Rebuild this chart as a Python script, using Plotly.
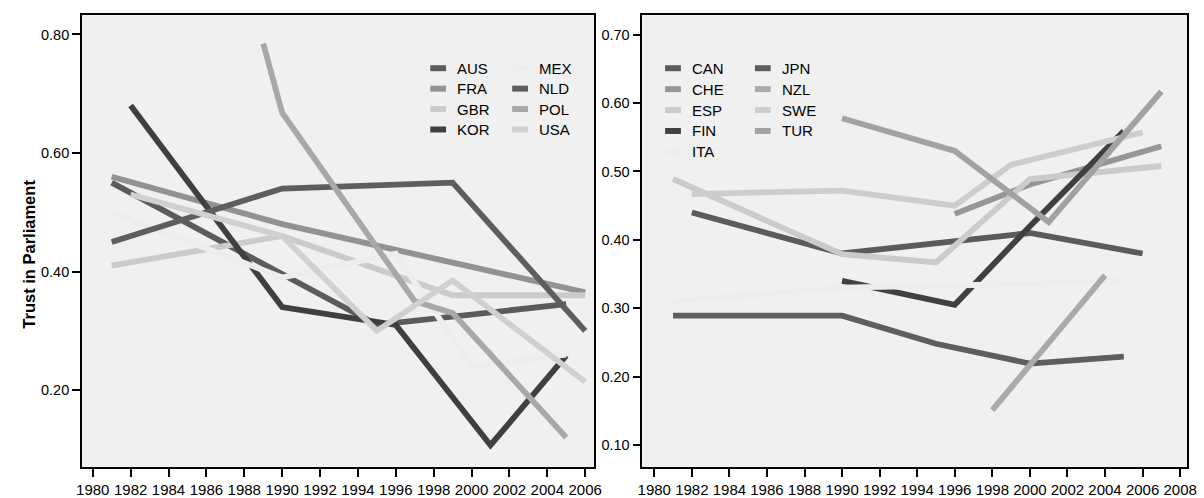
import plotly.graph_objects as go

# ---------------- data ----------------
left_names = ["AUS", "FRA", "GBR", "KOR", "MEX", "NLD", "POL", "USA"]
AUS_years = [1981, 1995, 2005]
AUS_vals = [0.55, 0.31, 0.345]
FRA_years = [1981, 1990, 1999, 2006]
FRA_vals = [0.56, 0.48, 0.415, 0.365]
GBR_years = [1981, 1990, 1999, 2006]
GBR_vals = [0.41, 0.46, 0.36, 0.36]
KOR_years = [1982, 1990, 1996, 2001, 2005]
KOR_vals = [0.68, 0.34, 0.31, 0.107, 0.258]
MEX_years = [1981, 1990, 1996, 2000, 2005]
MEX_vals = [0.50, 0.39, 0.43, 0.24, 0.26]
NLD_years = [1981, 1990, 1999, 2006]
NLD_vals = [0.45, 0.54, 0.55, 0.30]
POL_years = [1989, 1990, 1997, 1999, 2005]
POL_vals = [0.785, 0.668, 0.35, 0.33, 0.12]
USA_years = [1982, 1990, 1995, 1999, 2006]
USA_vals = [0.53, 0.46, 0.30, 0.385, 0.214]

right_names = ["CAN", "CHE", "ESP", "FIN", "ITA", "JPN", "NZL", "SWE", "TUR"]
CAN_years = [1982, 1990, 2000, 2006]
CAN_vals = [0.44, 0.38, 0.41, 0.38]
CHE_years = [1996, 2000, 2007]
CHE_vals = [0.438, 0.481, 0.537]
ESP_years = [1981, 1990, 1995, 2000, 2007]
ESP_vals = [0.489, 0.379, 0.367, 0.489, 0.508]
FIN_years = [1990, 1996, 2000, 2005]
FIN_vals = [0.34, 0.305, 0.42, 0.559]
ITA_years = [1981, 1990, 1999, 2005]
ITA_vals = [0.31, 0.33, 0.335, 0.34]
JPN_years = [1981, 1990, 1995, 2000, 2005]
JPN_vals = [0.289, 0.289, 0.248, 0.219, 0.229]
NZL_years = [1998, 2004]
NZL_vals = [0.151, 0.348]
SWE_years = [1982, 1990, 1996, 1999, 2006]
SWE_vals = [0.467, 0.472, 0.45, 0.51, 0.557]
TUR_years = [1990, 1996, 2001, 2007]
TUR_vals = [0.578, 0.53, 0.426, 0.617]

left_ticks_x = list(range(1980, 2007, 2))
right_ticks_x = list(range(1980, 2009, 2))
left_ticks_y = [0.20, 0.40, 0.60, 0.80]
right_ticks_y = [0.10, 0.20, 0.30, 0.40, 0.50, 0.60, 0.70]
y_title = "Trust in Parliament"

# ---------------- styles ----------------
left_colors = {"AUS": "#5b5b5b", "FRA": "#929292", "GBR": "#cbcbcb", "KOR": "#3f3f3f",
               "MEX": "#ededed", "NLD": "#5e5e5e", "POL": "#a8a8a8", "USA": "#d0d0d0"}
right_colors = {"CAN": "#5b5b5b", "CHE": "#969696", "ESP": "#cbcbcb", "FIN": "#404040",
                "ITA": "#ededed", "JPN": "#5e5e5e", "NZL": "#aaaaaa", "SWE": "#cdcdcd",
                "TUR": "#a2a2a2"}

series = {
    "AUS": (AUS_years, AUS_vals), "FRA": (FRA_years, FRA_vals), "GBR": (GBR_years, GBR_vals),
    "KOR": (KOR_years, KOR_vals), "MEX": (MEX_years, MEX_vals), "NLD": (NLD_years, NLD_vals),
    "POL": (POL_years, POL_vals), "USA": (USA_years, USA_vals),
    "CAN": (CAN_years, CAN_vals), "CHE": (CHE_years, CHE_vals), "ESP": (ESP_years, ESP_vals),
    "FIN": (FIN_years, FIN_vals), "ITA": (ITA_years, ITA_vals), "JPN": (JPN_years, JPN_vals),
    "NZL": (NZL_years, NZL_vals), "SWE": (SWE_years, SWE_vals), "TUR": (TUR_years, TUR_vals),
}

W, H = 1204, 498
FONT = "Liberation Sans, Arial, Helvetica, sans-serif"
LW = 5.8

fig = go.Figure()
for n in left_names:
    xs, ys = series[n]
    fig.add_trace(go.Scatter(x=xs, y=ys, mode="lines", name=n, showlegend=False,
                             line=dict(color=left_colors[n], width=LW),
                             xaxis="x", yaxis="y"))
for n in right_names:
    xs, ys = series[n]
    fig.add_trace(go.Scatter(x=xs, y=ys, mode="lines", name=n, showlegend=False,
                             line=dict(color=right_colors[n], width=LW),
                             xaxis="x2", yaxis="y2"))

def px_x(p):
    return p / W

def px_y(p):
    return 1 - p / H

top_px, bot_px = 15, 469
ydom = [px_y(bot_px), px_y(top_px)]

line_common = dict(showline=True, mirror=True, linecolor="black", linewidth=1.7,
                   ticks="outside", ticklen=8, tickwidth=1.7, tickcolor="black",
                   showgrid=False, zeroline=False)
xfont = dict(family=FONT, size=15, color="black")
yfont = dict(family=FONT, size=14.5, color="black")

fig.update_layout(
    width=W, height=H, margin=dict(l=0, r=0, t=0, b=0),
    paper_bgcolor="white", plot_bgcolor="#f0f0f0",
    xaxis=dict(domain=[px_x(77), px_x(596)], range=[1979.43, 2006.47],
               tickvals=left_ticks_x, ticktext=[str(v) for v in left_ticks_x],
               anchor="y", tickfont=xfont, **line_common),
    yaxis=dict(domain=ydom, range=[0.070, 0.833], tickvals=left_ticks_y,
               ticktext=[f"{v:.2f}" for v in left_ticks_y], anchor="x", tickfont=yfont,
               **line_common),
    xaxis2=dict(domain=[px_x(645), px_x(1197)], range=[1979.37, 2008.37],
                tickvals=right_ticks_x, ticktext=[str(v) for v in right_ticks_x],
                anchor="y2", tickfont=xfont, **line_common),
    yaxis2=dict(domain=ydom, range=[0.0675, 0.729], tickvals=right_ticks_y,
                ticktext=[f"{v:.2f}" for v in right_ticks_y], anchor="x2", tickfont=yfont,
                **line_common),
    showlegend=False,
)

# y-axis title as rotated text
fig.add_annotation(xref="paper", yref="paper", x=px_x(23), y=px_y(255), text=y_title,
                   textangle=-90, showarrow=False, xanchor="center", yanchor="middle",
                   font=dict(family=FONT, size=16.5, color="black", weight="bold"))

# ---------------- manual legends (swatch + real text) ----------------
def add_legend(names, colors, col_x, row_y0, row_dy, rows):
    for i, n in enumerate(names):
        c, r = divmod(i, rows)
        sx, tx = col_x[c]
        cy = row_y0 + r * row_dy
        fig.add_shape(type="rect", xref="paper", yref="paper",
                      x0=px_x(sx), x1=px_x(sx + 16), y0=px_y(cy + 3), y1=px_y(cy - 3),
                      fillcolor=colors[n], line=dict(width=0), layer="above")
        fig.add_annotation(xref="paper", yref="paper", x=px_x(tx), y=px_y(cy),
                           text=n, showarrow=False, xanchor="left", yanchor="middle",
                           font=dict(family=FONT, size=15, color="black"))

add_legend(left_names, left_colors, [(430, 455), (513, 538)], 68.5, 20.5, 4)
add_legend(right_names, right_colors, [(668, 693), (759, 784)], 68.5, 21, 5)

fig.write_html("out.html")
